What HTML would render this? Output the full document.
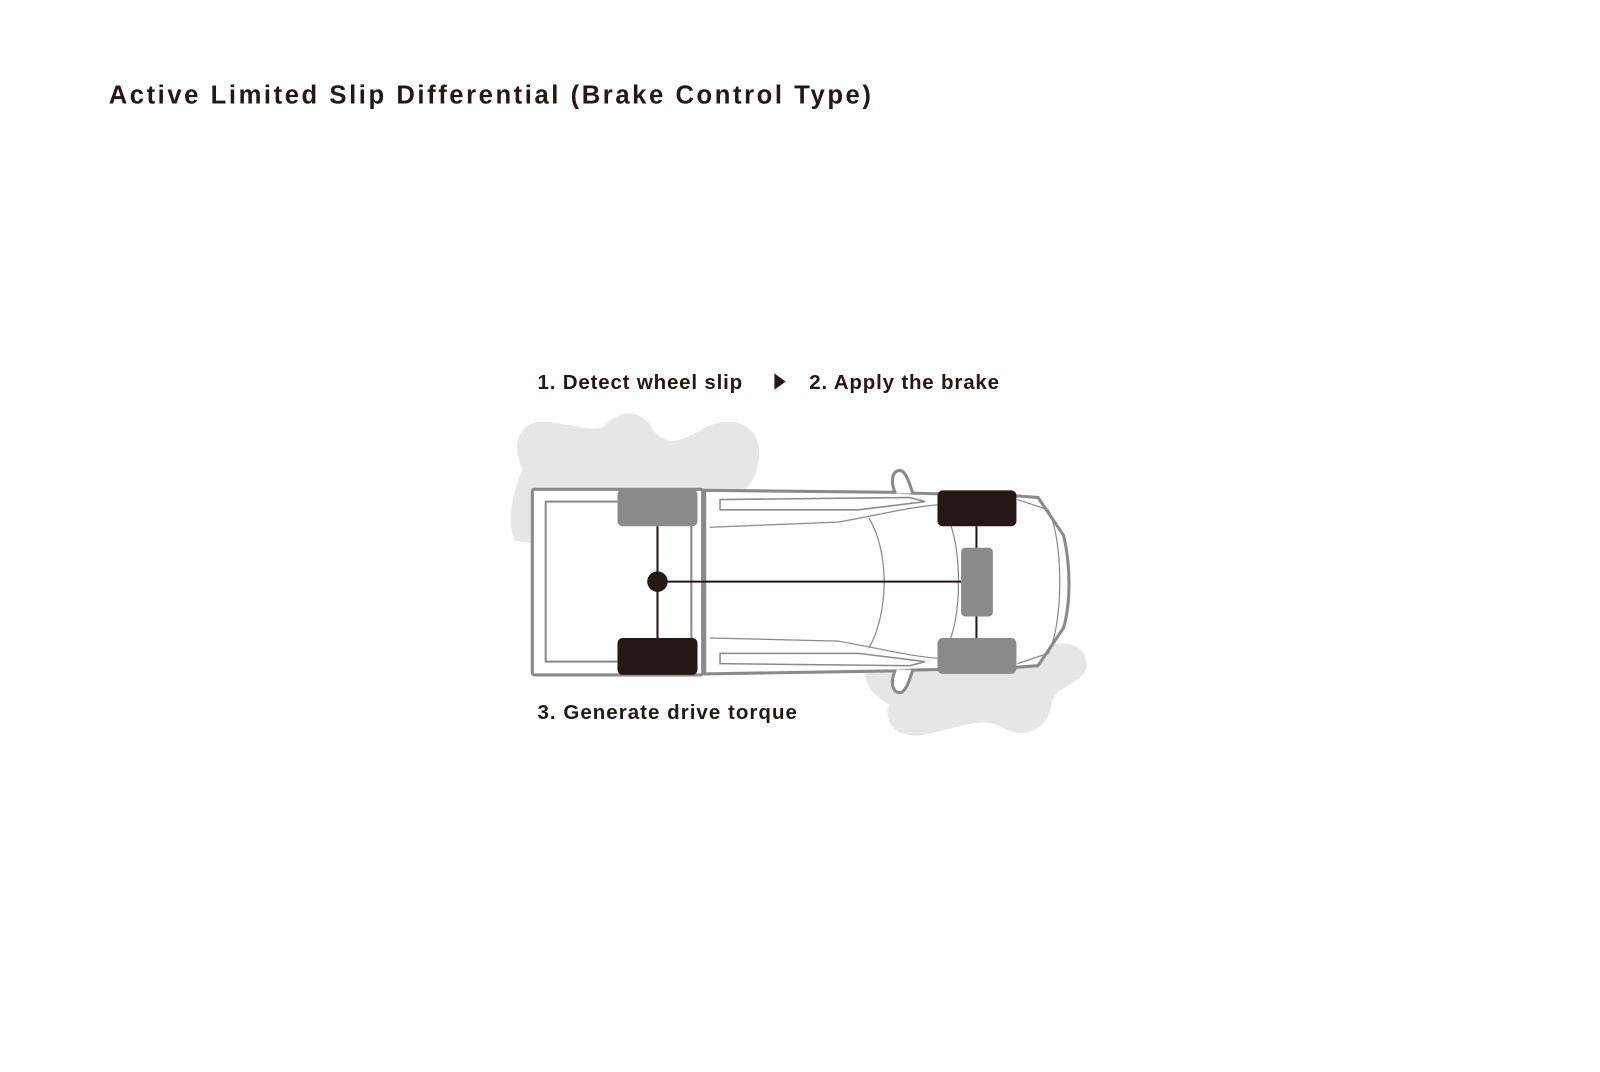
<!DOCTYPE html>
<html><head><style>
body{margin:0;width:1600px;height:1067px;background:#fff;overflow:hidden;font-family:"Liberation Sans",sans-serif;}
</style></head><body>
<svg width="1600" height="1067" viewBox="0 0 1600 1067" xmlns="http://www.w3.org/2000/svg">
<g transform="scale(1.0256)">
<text x="106" y="101" font-family="Liberation Sans, sans-serif" font-size="25" font-weight="bold" letter-spacing="2.5" fill="#231815">Active Limited Slip Differential (Brake Control Type)</text>
</g>
<g transform="translate(-3,-3) scale(1.0256)">
<text x="527" y="382" font-family="Liberation Sans, sans-serif" font-size="20" font-weight="bold" letter-spacing="0.8" fill="#231815">1. Detect wheel slip</text>
<polygon points="758,367 769,375 758,383" fill="#231815"/>
<text x="792" y="382" font-family="Liberation Sans, sans-serif" font-size="20" font-weight="bold" letter-spacing="0.8" fill="#231815">2. Apply the brake</text>
<text x="527" y="704" font-family="Liberation Sans, sans-serif" font-size="20" font-weight="bold" letter-spacing="1" fill="#231815">3. Generate drive torque</text>
<path d="M515,420 C530,405 570,425 590,420 C605,405 620,400 635,415 C650,440 665,435 690,420 C720,405 750,420 742,455 C738,480 720,490 700,490 L690,500 C650,530 560,540 505,530 C495,510 505,480 512,460 C505,440 505,430 515,420 Z" fill="#e6e6e6"/>
<path d="M850,640 C880,632 950,636 1020,634 C1040,626 1065,630 1062,655 C1058,670 1030,672 1028,690 C1025,715 1000,725 980,712 C960,700 930,715 900,720 C870,722 865,700 870,690 C855,682 838,665 850,640 Z" fill="#e6e6e6"/>
<rect x="522" y="480" width="166" height="181" rx="2" fill="#fff" stroke="#8a8a8a" stroke-width="3"/>
<rect x="535" y="492" width="142" height="156" fill="none" stroke="#8a8a8a" stroke-width="2"/>
<path d="M690,481 L880,483 C895,484 915,485 960,484 L1015,488 L1040,525 C1047,555 1047,590 1040,615 L1015,652 L960,656 C915,655 895,656 880,657 L690,660 Z" fill="#fff" stroke="#8a8a8a" stroke-width="3"/>
<path d="M876,484 C870,470 874,460 882,462 C888,466 890,476 893,484" fill="#fff" stroke="#8a8a8a" stroke-width="3"/>
<path d="M876,656 C870,670 874,680 882,678 C888,674 890,664 893,656" fill="#fff" stroke="#8a8a8a" stroke-width="3"/>
<path d="M705,490 L890,488 L905,492 L840,500 L705,500 Z" fill="none" stroke="#8a8a8a" stroke-width="1.5"/>
<path d="M705,650 L890,652 L905,648 L840,640 L705,640 Z" fill="none" stroke="#8a8a8a" stroke-width="1.5"/>
<path d="M695,517 L820,512 C860,505 890,497 920,495" fill="none" stroke="#8a8a8a" stroke-width="1.2"/>
<path d="M695,625 L820,628 C860,635 890,643 920,645" fill="none" stroke="#8a8a8a" stroke-width="1.2"/>
<path d="M850,508 C870,540 870,600 850,635" fill="none" stroke="#8a8a8a" stroke-width="1.2"/>
<path d="M930,515 C940,545 940,595 930,625" fill="none" stroke="#8a8a8a" stroke-width="1.2"/>
<path d="M995,490 L1025,500 C1040,530 1040,610 1025,640 L995,650" fill="none" stroke="#8a8a8a" stroke-width="1.2"/>
<line x1="644" y1="516" x2="644" y2="625" stroke="#231815" stroke-width="2"/>
<line x1="644" y1="570" x2="940" y2="570" stroke="#231815" stroke-width="2"/>
<line x1="955" y1="516" x2="955" y2="625" stroke="#231815" stroke-width="2"/>
<circle cx="644" cy="570" r="10" fill="#231815"/>
<rect x="605" y="480" width="78" height="36" rx="5" fill="#8a8a8a"/>
<rect x="605" y="625" width="78" height="36" rx="5" fill="#231815"/>
<rect x="917" y="481" width="77" height="35" rx="5" fill="#231815"/>
<rect x="917" y="625" width="77" height="35" rx="5" fill="#8a8a8a"/>
<rect x="940" y="537" width="31" height="67" rx="4" fill="#8a8a8a"/>
</g>
</svg>
</body></html>
